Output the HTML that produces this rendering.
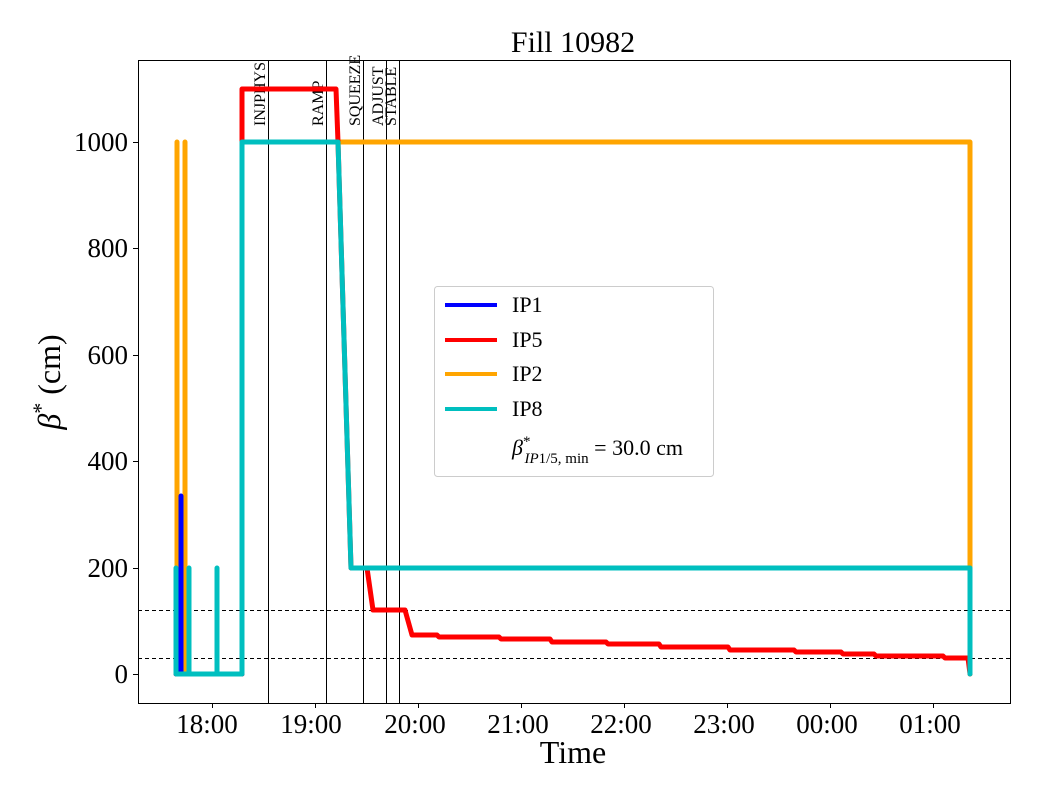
<!DOCTYPE html>
<html><head><style>body{margin:0;background:#fff}svg{display:block}text{font-family:"Liberation Serif",serif}</style></head><body>
<svg width="1040" height="800" xmlns="http://www.w3.org/2000/svg">
<text x="573" y="52" font-size="30" text-anchor="middle">Fill 10982</text>
<g stroke="#000" stroke-width="1">
<line x1="268.5" y1="60" x2="268.5" y2="703"/><line x1="326.5" y1="60" x2="326.5" y2="703"/><line x1="363.5" y1="60" x2="363.5" y2="703"/><line x1="386.5" y1="60" x2="386.5" y2="703"/><line x1="399.5" y1="60" x2="399.5" y2="703"/>
<line x1="138" y1="610.5" x2="1010" y2="610.5" stroke-dasharray="4,3"/><line x1="138" y1="658.5" x2="1010" y2="658.5" stroke-dasharray="4,3"/>
</g>
<g font-size="16">
<text transform="translate(265,126) rotate(-90)">INJPHYS</text>
<text transform="translate(323,126) rotate(-90)">RAMP</text>
<text transform="translate(360,126) rotate(-90)">SQUEEZE</text>
<text transform="translate(383,126) rotate(-90)">ADJUST</text>
<text transform="translate(396,126) rotate(-90)">STABLE</text>
</g>
<g fill="none" stroke-width="5" stroke-linejoin="round" stroke-linecap="round">
<polyline stroke="#ffa500" points="177,674 177,142 177,674 185,674 185,142 185,674 242,674 242,142 338,142 970,142 970,674"/>
<polyline stroke="#00f" points="176,674 181,674 181,496 181,674 242,674"/>
<polyline stroke="#f00" points="176,674 242,674 242,89 336,89 338,142 351,568 367,568 373,610 405,610 412,635 437,635 439,637 499,637 501,639 550,639 552,642 606,642 608,644 659,644 661,647 728,647 730,650 794,650 796,652 841,652 843,654 874,654 876,656 943,656 945,658 968,658 970,674"/>
<polyline stroke="#00bfbf" points="176,674 176,568 176,674 189,674 189,568 189,674 217,674 217,568 217,674 242,674 242,142 338,142 351,568 970,568 970,674"/>
</g>
<rect x="138.5" y="60.5" width="872" height="643" fill="none" stroke="#000" stroke-width="1"/>
<g stroke="#000"><line x1="133" y1="674.5" x2="138" y2="674.5"/><line x1="133" y1="568.5" x2="138" y2="568.5"/><line x1="133" y1="461.5" x2="138" y2="461.5"/><line x1="133" y1="355.5" x2="138" y2="355.5"/><line x1="133" y1="248.5" x2="138" y2="248.5"/><line x1="133" y1="142.5" x2="138" y2="142.5"/>
<line x1="212.5" y1="703" x2="212.5" y2="708"/><line x1="315.5" y1="703" x2="315.5" y2="708"/><line x1="418.5" y1="703" x2="418.5" y2="708"/><line x1="521.5" y1="703" x2="521.5" y2="708"/><line x1="624.5" y1="703" x2="624.5" y2="708"/><line x1="727.5" y1="703" x2="727.5" y2="708"/><line x1="830.5" y1="703" x2="830.5" y2="708"/><line x1="933.5" y1="703" x2="933.5" y2="708"/></g>
<g font-size="27" text-anchor="end"><text x="128" y="683">0</text><text x="128" y="577">200</text><text x="128" y="470">400</text><text x="128" y="364">600</text><text x="128" y="257">800</text><text x="128" y="151">1000</text></g>
<g font-size="27" text-anchor="middle"><text x="207" y="733">18:00</text><text x="311" y="733">19:00</text><text x="415" y="733">20:00</text><text x="518" y="733">21:00</text><text x="621" y="733">22:00</text><text x="724" y="733">23:00</text><text x="827" y="733">00:00</text><text x="930" y="733">01:00</text></g>
<text x="573" y="763" font-size="32" text-anchor="middle">Time</text>
<text transform="translate(60,382) rotate(-90)" font-size="32" text-anchor="middle"><tspan font-style="italic">β</tspan><tspan dy="-12" font-size="22">*</tspan><tspan dy="12"> (cm)</tspan></text>
<rect x="434.5" y="286.5" width="279" height="190" rx="3" fill="#fff" stroke="#ccc"/>
<g stroke-width="4"><line x1="445" y1="305" x2="497" y2="305" stroke="#00f"/><line x1="445" y1="340" x2="497" y2="340" stroke="#f00"/><line x1="445" y1="374" x2="497" y2="374" stroke="#ffa500"/><line x1="445" y1="409" x2="497" y2="409" stroke="#00bfbf"/></g>
<g font-size="22"><text x="512" y="312">IP1</text><text x="512" y="347">IP5</text><text x="512" y="381">IP2</text><text x="512" y="416">IP8</text>
<text x="512" y="455"><tspan font-style="italic">β</tspan><tspan font-size="15" dy="-9">*</tspan><tspan font-size="15" dx="-6" dy="17" font-style="italic">IP</tspan><tspan font-size="15">1/5, min</tspan><tspan dy="-8"> = 30.0 cm</tspan></text></g>
</svg>
</body></html>
